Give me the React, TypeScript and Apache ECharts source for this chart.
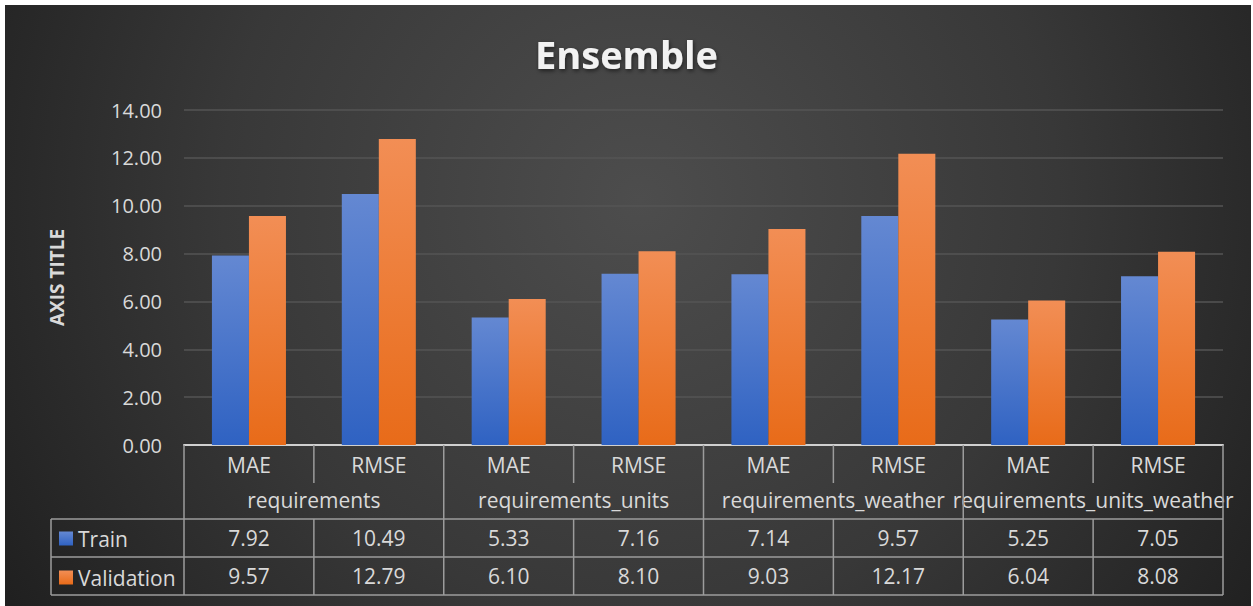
import React, { useEffect, useRef } from "react";
import * as echarts from "echarts";

// Metric per column and the feature set each pair of columns belongs to
const metrics = ["MAE", "RMSE", "MAE", "RMSE", "MAE", "RMSE", "MAE", "RMSE"];
const featureSets = [
  "requirements",
  "requirements_units",
  "requirements_weather",
  "requirements_units_weather",
];
const seriesNames = ["Train", "Validation"];
const trainValues = [7.92, 10.49, 5.33, 7.16, 7.14, 9.57, 5.25, 7.05];
const validationValues = [9.57, 12.79, 6.1, 8.1, 9.03, 12.17, 6.04, 8.08];
const yMin = 0;
const yMax = 14;
const yStep = 2;

const W = 1253;
const H = 606;
const FONT = "'Open Sans', 'DejaVu Sans', sans-serif";
const TEXT = "#d9d9d9";
const TABLE_LINE = "#9c9c9c";
const TABLE_FONT_SIZE = 21;

const blueFill = {
  type: "linear", x: 0, y: 0, x2: 0, y2: 1,
  colorStops: [
    { offset: 0, color: "#6488d2" },
    { offset: 1, color: "#2f62c2" },
  ],
};
const orangeFill = {
  type: "linear", x: 0, y: 0, x2: 0, y2: 1,
  colorStops: [
    { offset: 0, color: "#f28e55" },
    { offset: 1, color: "#e86b19" },
  ],
};

export default function App() {
  const ref = useRef<HTMLDivElement>(null);

  useEffect(() => {
    document.body.style.margin = "0";
    const chart = echarts.init(ref.current!, null, { renderer: "svg" });

    chart.setOption({
      animation: false,
      backgroundColor: "#ffffff",
      textStyle: { fontFamily: FONT },
      title: {
        text: "Ensemble",
        left: "center",
        top: 30,
        textStyle: {
          color: "#f2f2f2",
          fontSize: 38,
          fontWeight: "bold",
          fontFamily: FONT,
          textShadowColor: "rgba(0,0,0,0.55)",
          textShadowBlur: 4,
          textShadowOffsetX: 1,
          textShadowOffsetY: 2,
        },
      },
      legend: {
        orient: "vertical",
        left: 59,
        top: 528,
        padding: 0,
        itemGap: 18,
        itemWidth: 14,
        itemHeight: 14,
        icon: "rect",
        data: seriesNames,
        textStyle: {
          color: TEXT, fontSize: TABLE_FONT_SIZE, lineHeight: 20, fontFamily: FONT,
        },
      },
      grid: { left: 184, right: 30, top: 110, bottom: 161, containLabel: false },
      xAxis: [
        {
          type: "category",
          data: metrics,
          axisLine: { show: true, lineStyle: { color: "#d0d0d0", width: 2 } },
          axisTick: { show: false },
          axisLabel: {
            color: TEXT, fontSize: TABLE_FONT_SIZE, lineHeight: 20, margin: 10,
            interval: 0, fontFamily: FONT,
          },
        },
        {
          type: "category",
          data: featureSets,
          position: "bottom",
          axisLine: { show: false },
          axisTick: { show: false },
          axisLabel: {
            color: TEXT, fontSize: TABLE_FONT_SIZE, lineHeight: 20, margin: 45,
            interval: 0, fontFamily: FONT,
          },
        },
      ],
      yAxis: {
        type: "value",
        min: yMin,
        max: yMax,
        interval: yStep,
        name: "AXIS TITLE",
        nameLocation: "middle",
        nameGap: 118,
        nameTextStyle: { color: TEXT, fontSize: 19, fontWeight: "bold", fontFamily: FONT },
        axisLine: { show: false },
        axisTick: { show: false },
        splitLine: { lineStyle: { color: "#555555", width: 1.5 } },
        axisLabel: {
          color: TEXT, fontSize: 20, margin: 22, fontFamily: FONT,
          formatter: (v: number) => v.toFixed(2),
        },
      },
      series: [
        {
          name: seriesNames[0],
          type: "bar",
          data: trainValues,
          barGap: "0%",
          barCategoryGap: "43%",
          itemStyle: { color: blueFill },
        },
        {
          name: seriesNames[1],
          type: "bar",
          data: validationValues,
          barGap: "0%",
          barCategoryGap: "43%",
          itemStyle: { color: orangeFill },
        },
      ],
    });

    // Data table under the plot, placed from the axes' own pixel mapping
    const x0 = chart.convertToPixel({ xAxisIndex: 0 }, 0) as number;
    const x1 = chart.convertToPixel({ xAxisIndex: 0 }, 1) as number;
    const band = x1 - x0;
    const left = x0 - band / 2;
    const right = left + band * metrics.length;
    const base = chart.convertToPixel({ yAxisIndex: 0 }, yMin) as number;
    const catBottom = base + 38;
    const groupBottom = base + 74;
    const trainBottom = base + 112;
    const valBottom = base + 150;
    const legendLeft = 51;

    const line = (xa: number, ya: number, xb: number, yb: number) => ({
      type: "line",
      silent: true,
      z: 5,
      shape: { x1: xa, y1: ya, x2: xb, y2: yb },
      style: { stroke: TABLE_LINE, lineWidth: 1.5 },
    });

    const elements: any[] = [
      {
        type: "rect",
        silent: true,
        z: -100,
        shape: { x: 5, y: 5, width: W - 7, height: H - 5 },
        style: {
          fill: {
            type: "radial",
            x: 640, y: 200, r: 760,
            global: true,
            colorStops: [
              { offset: 0, color: "#4d4d4d" },
              { offset: 0.55, color: "#383838" },
              { offset: 1, color: "#1f1f1f" },
            ],
          },
        },
      },
      line(legendLeft, groupBottom, right, groupBottom),
      line(legendLeft, trainBottom, right, trainBottom),
      line(legendLeft, valBottom, right, valBottom),
      line(legendLeft, groupBottom, legendLeft, valBottom),
    ];

    for (let i = 0; i <= metrics.length; i++) {
      const x = left + band * i;
      if (i % 2 === 0) {
        elements.push(line(x, base, x, valBottom));
      } else {
        elements.push(line(x, base, x, catBottom));
        elements.push(line(x, groupBottom, x, valBottom));
      }
    }

    const rows = [trainValues, validationValues];
    rows.forEach((vals, r) => {
      const cy = (r === 0 ? groupBottom + trainBottom : trainBottom + valBottom) / 2;
      vals.forEach((v, i) => {
        const cx = chart.convertToPixel({ xAxisIndex: 0 }, i) as number;
        elements.push({
          type: "text",
          silent: true,
          z: 5,
          x: cx,
          y: cy,
          style: {
            text: v.toFixed(2),
            fill: TEXT,
            font: `${TABLE_FONT_SIZE}px ${FONT}`,
            align: "center",
            verticalAlign: "middle",
          },
        });
      });
    });

    chart.setOption({ graphic: { elements } });

    return () => chart.dispose();
  }, []);

  return (
    <div
      ref={ref}
      style={{ position: "absolute", left: 0, top: 0, width: W, height: H }}
    />
  );
}
